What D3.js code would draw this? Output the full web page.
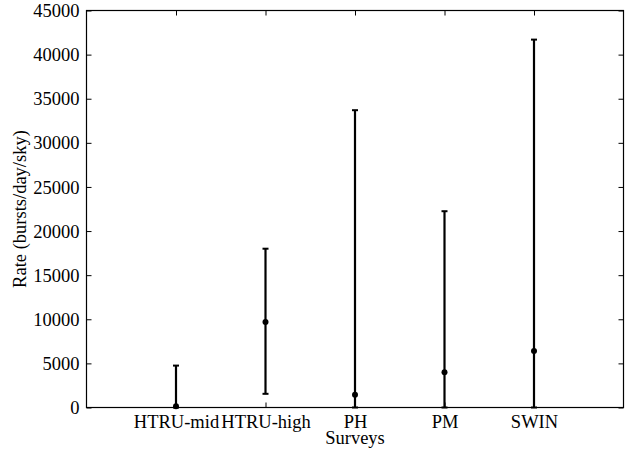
<!DOCTYPE html>
<html><head><meta charset="utf-8">
<script src="https://cdn.jsdelivr.net/npm/d3@7"></script>
<style>body{margin:0;background:#fff;} text{font-family:"Liberation Serif","Times New Roman",serif;}</style>
</head><body>
<svg id="c" width="631" height="452"></svg>
<script>
const categories = ["HTRU-mid","HTRU-high","PH","PM","SWIN"];
const rates = [150, 9700, 1450, 4000, 6400];
const lowerBounds = [0, 1550, 0, 0, 0];
const upperBounds = [4750, 18000, 33700, 22250, 41700];
const yTicks = [0,5000,10000,15000,20000,25000,30000,35000,40000,45000];

const svg = d3.select("#c");
const L = 86.5, R = 623.5, T = 10.5, B = 407.5;
const x = d3.scaleLinear().domain([0, 6]).range([L, R]);
const y = d3.scaleLinear().domain([0, 45000]).range([B, T]);
const fs = 18.5;

// frame
svg.append("rect").attr("x", L).attr("y", T).attr("width", R - L).attr("height", B - T)
  .attr("fill", "none").attr("stroke", "#000").attr("stroke-width", 1.2);

// y axis left
const yl = svg.append("g").attr("transform", `translate(${L},0)`)
  .call(d3.axisLeft(y).tickValues(yTicks).tickFormat(d3.format("d")).tickSizeInner(-5).tickSizeOuter(0).tickPadding(7));
yl.select(".domain").remove();
yl.selectAll("text").attr("font-size", fs).attr("fill", "#000").attr("dy", "0.33em");
yl.selectAll("line").attr("stroke", "#000");
// y axis right ticks
const yr = svg.append("g").attr("transform", `translate(${R},0)`)
  .call(d3.axisRight(y).tickValues(yTicks).tickSizeInner(-5).tickSizeOuter(0).tickFormat(""));
yr.select(".domain").remove();
yr.selectAll("line").attr("stroke", "#000");

// x axis bottom
const idx = categories.map((d, i) => i + 1);
const xb = svg.append("g").attr("transform", `translate(0,${B})`)
  .call(d3.axisBottom(x).tickValues(idx).tickFormat(i => categories[i - 1]).tickSizeInner(-5).tickSizeOuter(0));
xb.select(".domain").remove();
xb.selectAll("text").attr("font-size", fs).attr("fill", "#000").attr("y", 20).attr("dy", 0);
xb.selectAll("line").attr("stroke", "#000");
const xt = svg.append("g").attr("transform", `translate(0,${T})`)
  .call(d3.axisTop(x).tickValues(idx).tickFormat("").tickSizeInner(-5).tickSizeOuter(0));
xt.select(".domain").remove();
xt.selectAll("line").attr("stroke", "#000");

// axis titles
svg.append("text").attr("x", (L + R) / 2).attr("y", 444).attr("text-anchor", "middle")
  .attr("font-size", fs).text("Surveys");
svg.append("text").attr("transform", `translate(26,${(T + B) / 2}) rotate(-90)`).attr("text-anchor", "middle")
  .attr("font-size", fs).text("Rate (bursts/day/sky)");

// error bars
const data = categories.map((c, i) => ({i: i + 1, v: rates[i], lo: lowerBounds[i], hi: upperBounds[i]}));
const g = svg.append("g");
g.selectAll(".bar").data(data).enter().append("line")
  .attr("x1", d => x(d.i)).attr("x2", d => x(d.i)).attr("y1", d => y(d.lo)).attr("y2", d => y(d.hi))
  .attr("stroke", "#000").attr("stroke-width", 2.2);
g.selectAll(".capH").data(data).enter().append("line")
  .attr("x1", d => x(d.i) - 3).attr("x2", d => x(d.i) + 3).attr("y1", d => y(d.hi)).attr("y2", d => y(d.hi))
  .attr("stroke", "#000").attr("stroke-width", 2);
g.selectAll(".capL").data(data).enter().append("line")
  .attr("x1", d => x(d.i) - 3).attr("x2", d => x(d.i) + 3).attr("y1", d => y(d.lo)).attr("y2", d => y(d.lo))
  .attr("stroke", "#000").attr("stroke-width", 2);
g.selectAll("circle").data(data).enter().append("circle")
  .attr("cx", d => x(d.i)).attr("cy", d => y(d.v)).attr("r", 3).attr("fill", "#000");
</script>
</body></html>
